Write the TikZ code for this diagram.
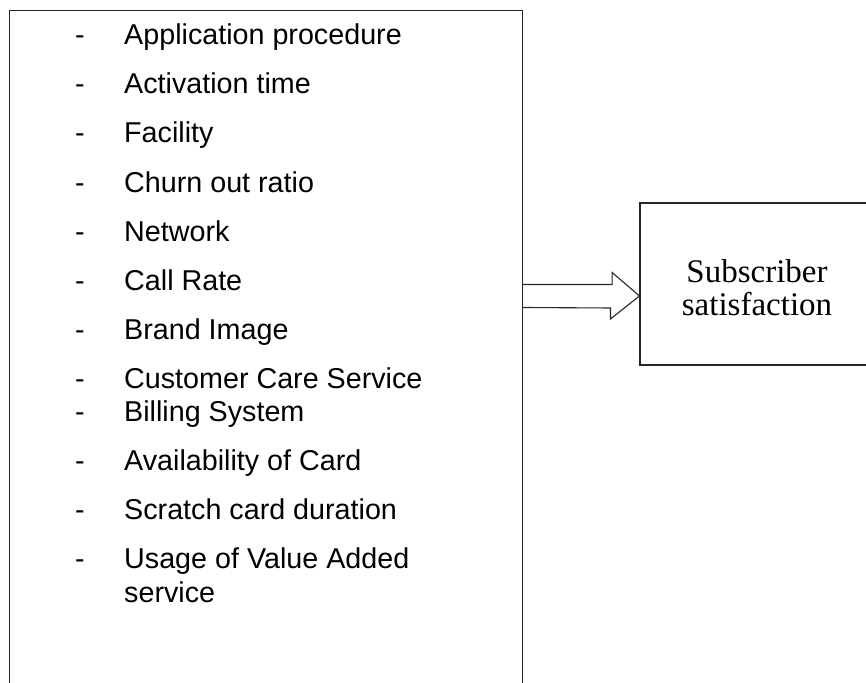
\documentclass[tikz,border=0pt]{standalone}
\usepackage{fontspec}
\setmainfont{Liberation Sans}
\newfontfamily\serifface{Liberation Serif}
\usetikzlibrary{positioning}

\tikzset{
  boxline/.style={draw=black!85, line width=1.1pt, inner sep=0pt},
  dashmark/.style={font=\fontsize{28.7}{33}\selectfont, inner sep=0pt, anchor=base},
  itemtext/.style={font=\fontsize{28.7}{33}\selectfont, inner sep=0pt, anchor=base west},
  arrowline/.style={draw=black!85, line width=1.1pt, line join=miter},
}

\begin{document}
\begin{tikzpicture}[x=1pt,y=1pt]
\useasboundingbox (0,0) rectangle (866,682);
\clip (0,0) rectangle (866,682);
%the two boxes
\node[boxline, minimum width=513pt, minimum height=720pt, anchor=north west] (factors) at (9,672) {};
\node[boxline, minimum width=234pt, minimum height=162pt] (satbox) at (757,398) {};
\node[font=\serifface\fontsize{33}{33}\selectfont, align=center, inner sep=0pt] (satlabel) at ([yshift=-4pt]satbox.center) {Subscriber\\satisfaction};
%list of factors
\node[dashmark] (d1) at (80,637) {-};
\node[itemtext] (t1) at ([xshift=44pt]d1.base) {Application procedure};
\node[dashmark] (d2) at (80,588) {-};
\node[itemtext] (t2) at ([xshift=44pt]d2.base) {Activation time};
\node[dashmark] (d3) at (80,539) {-};
\node[itemtext] (t3) at ([xshift=44pt]d3.base) {Facility};
\node[dashmark] (d4) at (80,489) {-};
\node[itemtext] (t4) at ([xshift=44pt]d4.base) {Churn out ratio};
\node[dashmark] (d5) at (80,440) {-};
\node[itemtext] (t5) at ([xshift=44pt]d5.base) {Network};
\node[dashmark] (d6) at (80,391) {-};
\node[itemtext] (t6) at ([xshift=44pt]d6.base) {Call Rate};
\node[dashmark] (d7) at (80,342) {-};
\node[itemtext] (t7) at ([xshift=44pt]d7.base) {Brand Image};
\node[dashmark] (d8) at (80,293) {-};
\node[itemtext] (t8) at ([xshift=44pt]d8.base) {Customer Care Service};
\node[dashmark] (d9) at (80,260) {-};
\node[itemtext] (t9) at ([xshift=44pt]d9.base) {Billing System};
\node[dashmark] (d10) at (80,211) {-};
\node[itemtext] (t10) at ([xshift=44pt]d10.base) {Availability of Card};
\node[dashmark] (d11) at (80,162) {-};
\node[itemtext] (t11) at ([xshift=44pt]d11.base) {Scratch card duration};
\node[dashmark] (d12) at (80,113) {-};
\node[itemtext] (t12) at ([xshift=44pt]d12.base) {Usage of Value Added};
\node[itemtext] (t12b) at ([yshift=-33pt]t12.base west) {service};
%hollow arrow between the boxes
\coordinate (tip) at (satbox.west |- 0,386);
\coordinate (tail) at (factors.east |- tip);
\draw[arrowline] ([yshift=11.5pt]tail) -- ++(89,0) -- ++(0,12) -- (tip) -- ++(-29,-23) -- ++(0,11) -- ([yshift=-11.5pt]tail);
\end{tikzpicture}
\end{document}
